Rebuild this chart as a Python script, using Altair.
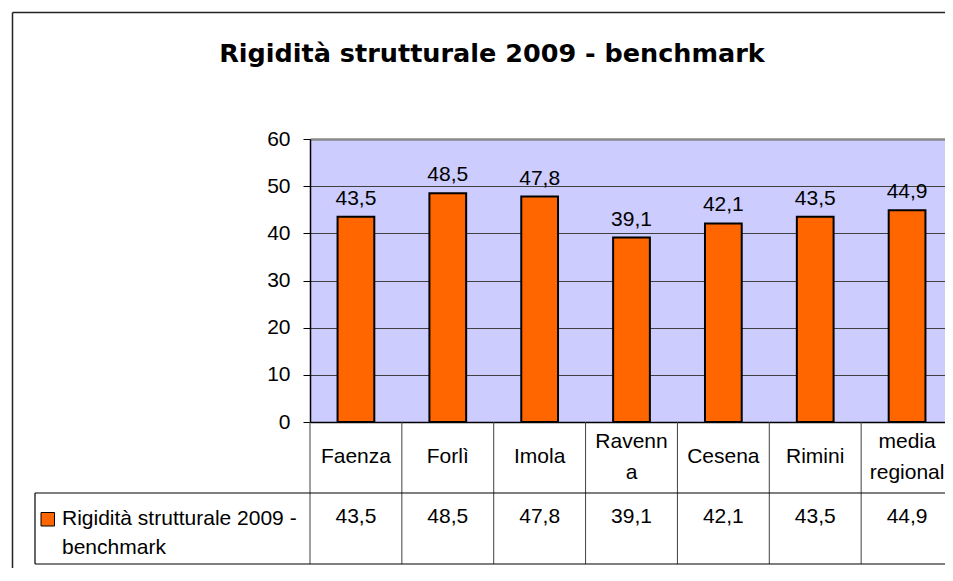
import altair as alt
import pandas as pd

# ---------------- data ----------------
categories = ["Faenza", "Forlì", "Imola", "Ravenna", "Cesena", "Rimini", "media regionale"]
header_lines = [["Faenza"], ["Forlì"], ["Imola"], ["Ravenn", "a"], ["Cesena"], ["Rimini"], ["media", "regional"]]
values = [43.5, 48.5, 47.8, 39.1, 42.1, 43.5, 44.9]
series_name = "Rigidità strutturale 2009 - benchmark"
series_lines = ["Rigidità strutturale 2009 -", "benchmark"]
title_text = "Rigidità strutturale 2009 - benchmark"
y_ticks = [0, 10, 20, 30, 40, 50, 60]

df = pd.DataFrame({"cat": categories, "value": values, "header": header_lines})
df["label"] = [f"{v:.1f}".replace(".", ",") for v in values]
legend_df = pd.DataFrame({"series": [series_name], "lines": [series_lines]})
title_df = pd.DataFrame({"title": [title_text]})

# ---------------- layout ----------------
W, H = 643, 283
FONT = "Liberation Sans"
ORANGE = "#FF6600"

xscale = alt.Scale(domain=categories, paddingInner=0, paddingOuter=0)
x_enc = alt.X("cat:N", scale=xscale, sort=categories,
              axis=alt.Axis(labels=False, ticks=False, title=None, grid=False,
                            domainColor="black", domainWidth=1.5))
y_enc = alt.Y("value:Q", scale=alt.Scale(domain=[0, 60], nice=False),
              axis=alt.Axis(values=y_ticks, title=None, labelFont=FONT, labelFontSize=21,
                            labelColor="black", tickColor="black", tickSize=7, labelPadding=13,
                            domainColor="black", domainWidth=1.5, grid=True,
                            gridColor=alt.condition("datum.value === 60", alt.value("#8a8a8a"), alt.value("#404040")),
                            gridWidth=alt.condition("datum.value === 60", alt.value(2.5), alt.value(1))))

base = alt.Chart(df)

bars = base.mark_bar(fill=ORANGE, stroke="black", strokeWidth=2,
                     width=alt.RelativeBandSize(0.4)).encode(x=x_enc, y=y_enc)

labels = base.mark_text(font=FONT, fontSize=21, color="black", baseline="alphabetic", dy=-12).encode(
    x=alt.X("cat:N", sort=categories), y=alt.Y("value:Q"), text="label:N")

# data table
header_one = base.transform_filter("length(datum.header) == 1").mark_text(
    font=FONT, fontSize=21, color="black", baseline="middle").encode(
    x=alt.X("cat:N", sort=categories), y=alt.value(318), text="header:N")
header_two = base.transform_filter("length(datum.header) > 1").mark_text(
    font=FONT, fontSize=21, color="black", baseline="middle", lineHeight=31).encode(
    x=alt.X("cat:N", sort=categories), y=alt.value(302.5), text="header:N")
row_vals = base.mark_text(font=FONT, fontSize=21, color="black", baseline="alphabetic").encode(
    x=alt.X("cat:N", sort=categories), y=alt.value(384), text="label:N")
vlines = base.mark_rule(color="#404040", strokeWidth=1).encode(
    x=alt.X("cat:N", sort=categories, bandPosition=0), y=alt.value(H), y2=alt.value(425))

one = alt.Chart(legend_df)
hline1 = one.mark_rule(color="black", strokeWidth=1.2).encode(x=alt.value(-275), x2=alt.value(W), y=alt.value(354))
hline2 = one.mark_rule(color="black", strokeWidth=1.2).encode(x=alt.value(-275), x2=alt.value(W), y=alt.value(425))
vline_left = one.mark_rule(color="black", strokeWidth=1.2).encode(x=alt.value(-275), y=alt.value(354), y2=alt.value(425))
swatch = one.mark_rect(fill=ORANGE, stroke="black", strokeWidth=1).encode(
    x=alt.value(-269), x2=alt.value(-255.5), y=alt.value(373.5), y2=alt.value(387))
legend_text = one.mark_text(font=FONT, fontSize=21, color="black", align="left",
                            baseline="alphabetic", lineHeight=29).encode(
    x=alt.value(-248), y=alt.value(386), text="lines:N")

# outer frame
frame_v = one.mark_rule(color="#222222", strokeWidth=1.5).encode(
    x=alt.value(-297.5), y=alt.value(-126.5), y2=alt.value(445))
frame_h = one.mark_rule(color="#222222", strokeWidth=1.5).encode(
    x=alt.value(-297.5), x2=alt.value(W + 10), y=alt.value(-126.5))

title = alt.Chart(title_df).mark_text(font="DejaVu Sans", fontWeight="bold", fontSize=25.5,
                                      color="black", align="center", baseline="alphabetic").encode(
    x=alt.value(182), y=alt.value(-77.5), text="title:N")

chart = alt.layer(
    bars, labels, header_one, header_two, row_vals, vlines, hline1, hline2, vline_left,
    swatch, legend_text, frame_v, frame_h, title
).properties(
    width=W, height=H,
    autosize=alt.AutoSizeParams(type="none"),
    padding={"left": 302, "top": 131, "right": -8, "bottom": 146},
    background="white",
).configure_view(fill="#CCCCFF", stroke="transparent")

chart.save("out.html", embed_options={"renderer": "svg", "actions": False})
